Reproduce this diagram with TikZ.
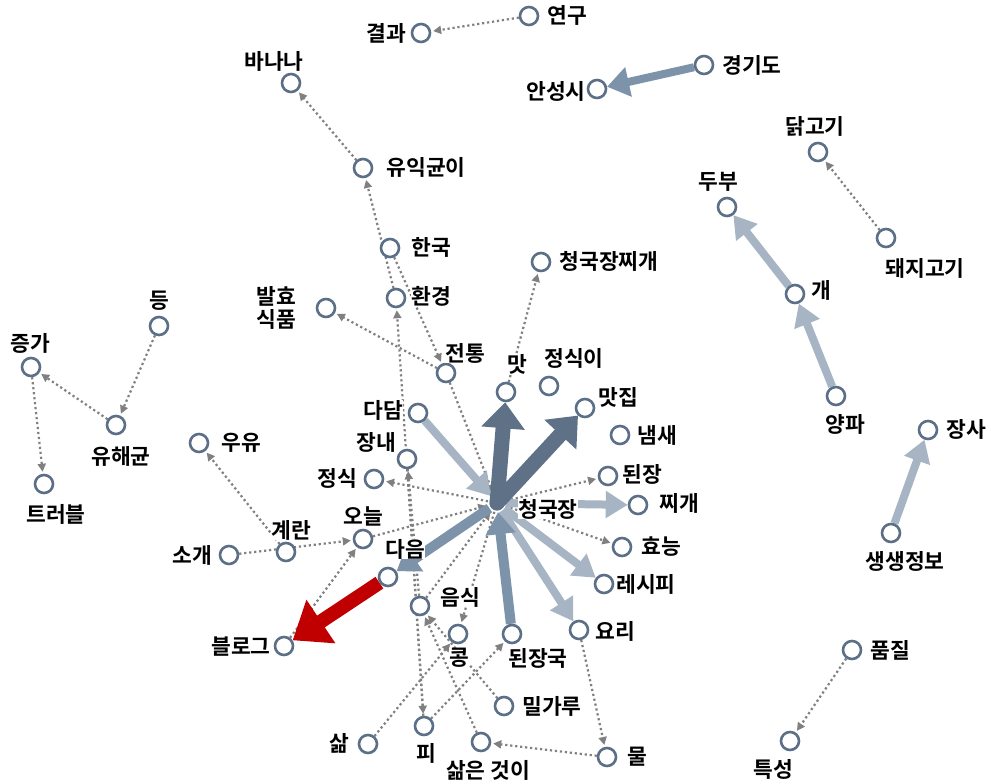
\documentclass[tikz,border=0pt]{standalone}
\usepackage{fontspec}
\setmainfont{Noto Sans CJK KR}[BoldFont={Noto Sans CJK KR Bold}]
\usetikzlibrary{arrows.meta}
\definecolor{circ}{HTML}{5B6F87}
\definecolor{dk}{HTML}{5E7186}
\definecolor{md}{HTML}{7D93AA}
\definecolor{lt}{HTML}{A6B4C3}
\definecolor{rd}{HTML}{C00000}
\definecolor{dotc}{HTML}{808080}
\newcommand\labfont{\fontsize{21.5}{23}\selectfont\bfseries}
\pgfdeclarelayer{bgl}
\pgfdeclarelayer{edgel}
\pgfsetlayers{bgl,edgel,main}
\tikzset{
  cir/.style={circle,draw=circ,line width=2.6pt,fill=white,minimum size=18pt,inner sep=0pt},
  hubn/.style={circle,draw=none,minimum size=18pt,inner sep=0pt},
  lab/.style={fill=white,inner sep=0.5pt,font=\labfont,align=center},
  dotarrow/.style={draw=dotc,line width=2.2pt,dash pattern=on 2.2pt off 2.8pt,
    -{Triangle[length=8pt,width=8pt]},shorten >=2pt},
  fatdark/.style={draw=dk,line width=15pt,-{Triangle[length=26pt,width=42pt]}},
  fatmed/.style={draw=md,line width=10pt,-{Triangle[length=22pt,width=29pt]}},
  fatmedthin/.style={draw=md,line width=8pt,-{Triangle[length=22pt,width=29pt]}},
  fatlight/.style={draw=lt,line width=8pt,-{Triangle[length=22pt,width=26pt]}},
  fatred/.style={draw=rd,line width=14pt,-{Triangle[length=34pt,width=50pt]}},
}
\begin{document}
\begin{tikzpicture}[x=1pt,y=-1pt]
\useasboundingbox (0,0) rectangle (991,784);
\begin{pgfonlayer}{bgl}
\fill[white] (0,0) rectangle (991,784);
\end{pgfonlayer}
% circles
\node[hubn] (hub) at (497,503) {};
\node[cir] (yeongu) at (529,16) {};
\node[cir] (gyeolgwa) at (421,33) {};
\node[cir] (gyeonggi) at (704,65) {};
\node[cir] (anseong) at (597,89) {};
\node[cir] (banana) at (291,83) {};
\node[cir] (yuik) at (363,168) {};
\node[cir] (dak) at (818,152) {};
\node[cir] (dubu) at (727,207) {};
\node[cir] (dwaeji) at (886,238) {};
\node[cir] (hanguk) at (390,248) {};
\node[cir] (cjjg) at (541,262) {};
\node[cir] (gae) at (795,294) {};
\node[cir] (hwangyeong) at (396,298) {};
\node[cir] (balhyo) at (326,308) {};
\node[cir] (deung) at (159,326) {};
\node[cir] (jeungga) at (31,367) {};
\node[cir] (jeontong) at (446,373) {};
\node[cir] (mat) at (506,392) {};
\node[cir] (jeongsigi) at (549,386) {};
\node[cir] (yangpa) at (836,396) {};
\node[cir] (matjip) at (585,408) {};
\node[cir] (dadam) at (418,413) {};
\node[cir] (jangsa) at (928,430) {};
\node[cir] (naemsae) at (620,435) {};
\node[cir] (yuhae) at (116,425) {};
\node[cir] (uyu) at (199,443) {};
\node[cir] (jangnae) at (407,459) {};
\node[cir] (jeongsik) at (374,479) {};
\node[cir] (doenjang) at (608,476) {};
\node[cir] (trouble) at (44,484) {};
\node[cir] (jjigae) at (638,505) {};
\node[cir] (saengsaeng) at (891,533) {};
\node[cir] (oneul) at (363,539) {};
\node[cir] (gyeran) at (286,552) {};
\node[cir] (sogae) at (229,555) {};
\node[cir] (daeum) at (388,577) {};
\node[cir] (hyoneung) at (622,547) {};
\node[cir] (recipe) at (604,584) {};
\node[cir] (eumsik) at (420,606) {};
\node[cir] (yori) at (579,630) {};
\node[cir] (kong) at (458,634) {};
\node[cir] (doenjangguk) at (512,634) {};
\node[cir] (blog) at (284,646) {};
\node[cir] (pumjil) at (852,650) {};
\node[cir] (milgaru) at (504,706) {};
\node[cir] (salm) at (368,744) {};
\node[cir] (pi) at (424,726) {};
\node[cir] (salmeun) at (481,742) {};
\node[cir] (mul) at (607,757) {};
\node[cir] (teukseong) at (790,741) {};
% labels
\node[lab] (l-hub) at (548,509) {청국장};
\node[lab] (l-yeongu) at (567,15) {연구};
\node[lab] (l-gyeolgwa) at (386,33) {결과};
\node[lab] (l-gyeonggi) at (752,65) {경기도};
\node[lab] (l-anseong) at (556,91) {안성시};
\node[lab] (l-banana) at (274,61) {바나나};
\node[lab] (l-yuik) at (426,167) {유익균이};
\node[lab] (l-dak) at (815,126) {닭고기};
\node[lab] (l-dubu) at (718,182) {두부};
\node[lab] (l-dwaeji) at (925,268) {돼지고기};
\node[lab] (l-hanguk) at (431,247) {한국};
\node[lab] (l-cjjg) at (609,261) {청국장찌개};
\node[lab] (l-gae) at (821,290) {개};
\node[lab] (l-hwangyeong) at (431,296) {환경};
\node[lab] (l-balhyo) at (276,308) {발효\\식품};
\node[lab] (l-deung) at (159,301) {등};
\node[lab] (l-jeungga) at (30,343) {증가};
\node[lab] (l-jeontong) at (465,353) {전통};
\node[lab] (l-mat) at (517,364) {맛};
\node[lab] (l-jeongsigi) at (574,358) {정식이};
\node[lab] (l-yangpa) at (845,424) {양파};
\node[lab] (l-matjip) at (618,397) {맛집};
\node[lab] (l-dadam) at (383,410) {다담};
\node[lab] (l-jangsa) at (966,429) {장사};
\node[lab] (l-naemsae) at (657,435) {냄새};
\node[lab] (l-yuhae) at (121,456) {유해균};
\node[lab] (l-uyu) at (241,443) {우유};
\node[lab] (l-jangnae) at (376,442) {장내};
\node[lab] (l-jeongsik) at (337,478) {정식};
\node[lab] (l-doenjang) at (642,474) {된장};
\node[lab] (l-trouble) at (56,514) {트러블};
\node[lab] (l-jjigae) at (679,503) {찌개};
\node[lab] (l-saengsaeng) at (905,561) {생생정보};
\node[lab] (l-oneul) at (363,516) {오늘};
\node[lab] (l-gyeran) at (291,530) {계란};
\node[lab] (l-sogae) at (192,555) {소개};
\node[lab] (l-daeum) at (405,549) {다음};
\node[lab] (l-hyoneung) at (661,547) {효능};
\node[lab] (l-recipe) at (646,584) {레시피};
\node[lab] (l-eumsik) at (460,597) {음식};
\node[lab] (l-yori) at (615,631) {요리};
\node[lab] (l-kong) at (459,658) {콩};
\node[lab] (l-doenjangguk) at (538,658) {된장국};
\node[lab] (l-blog) at (241,647) {블로그};
\node[lab] (l-pumjil) at (890,650) {품질};
\node[lab] (l-milgaru) at (552,706) {밀가루};
\node[lab] (l-salm) at (339,743) {삶};
\node[lab] (l-pi) at (426,753) {피};
\node[lab] (l-salmeun) at (488,770) {삶은 것이};
\node[lab] (l-mul) at (637,757) {물};
\node[lab] (l-teukseong) at (773,769) {특성};
% edges
\begin{pgfonlayer}{edgel}
\draw[dotarrow] (yeongu) -- (gyeolgwa);
\draw[dotarrow] (yuik) -- (banana);
\draw[dotarrow] (dwaeji) -- (dak);
\draw[dotarrow] (hwangyeong) -- (yuik);
\draw[dotarrow] (hanguk) -- (jeontong);
\draw[dotarrow] (jeontong) -- (balhyo);
\draw[dotarrow] (jeontong) -- (hub);
\draw[dotarrow] (mat) -- (cjjg);
\draw[dotarrow] (hub) -- (jeongsik);
\draw[dotarrow] (hub) -- (doenjang);
\draw[dotarrow] (hub) -- (hyoneung);
\draw[dotarrow] (oneul) -- (hub);
\draw[dotarrow] (sogae) -- (oneul);
\draw[dotarrow] (gyeran) -- (uyu);
\draw[dotarrow] (blog) -- (oneul);
\draw[dotarrow] (pi) -- (hwangyeong);
\draw[dotarrow] (eumsik) -- (jangnae);
\draw[dotarrow] (jangnae) -- (pi);
\draw[dotarrow] (milgaru) -- (eumsik);
\draw[dotarrow] (salmeun) -- (eumsik);
\draw[dotarrow] (salm) -- (kong);
\draw[dotarrow] (pi) -- (doenjangguk);
\draw[dotarrow] (mul) -- (salmeun);
\draw[dotarrow] (yori) -- (mul);
\draw[dotarrow] (hub) -- (kong);
\draw[dotarrow] (eumsik) -- (hub);
\draw[dotarrow] (deung) -- (yuhae);
\draw[dotarrow] (yuhae) -- (jeungga);
\draw[dotarrow] (jeungga) -- (trouble);
\draw[dotarrow] (pumjil) -- (teukseong);
% thick
\draw[fatlight] (dadam) -- (hub);
\draw[fatlight] (hub) -- (jjigae);
\draw[fatlight] (hub) -- (recipe);
\draw[fatlight] (hub) -- (yori);
\draw[fatmed] (doenjangguk) -- (hub);
\draw[fatmed] (hub) -- (daeum);
\draw[fatdark,line cap=round] (hub.center) -- (mat);
\draw[fatdark,line cap=round] (hub.center) -- (matjip);
\draw[fatred] (daeum) -- (blog);
\draw[fatmedthin] (gyeonggi) -- (anseong);
\draw[fatlight] (gae) -- (dubu);
\draw[fatlight] (yangpa) -- (gae);
\draw[fatlight] (saengsaeng) -- (jangsa);
\end{pgfonlayer}
\end{tikzpicture}
\end{document}
